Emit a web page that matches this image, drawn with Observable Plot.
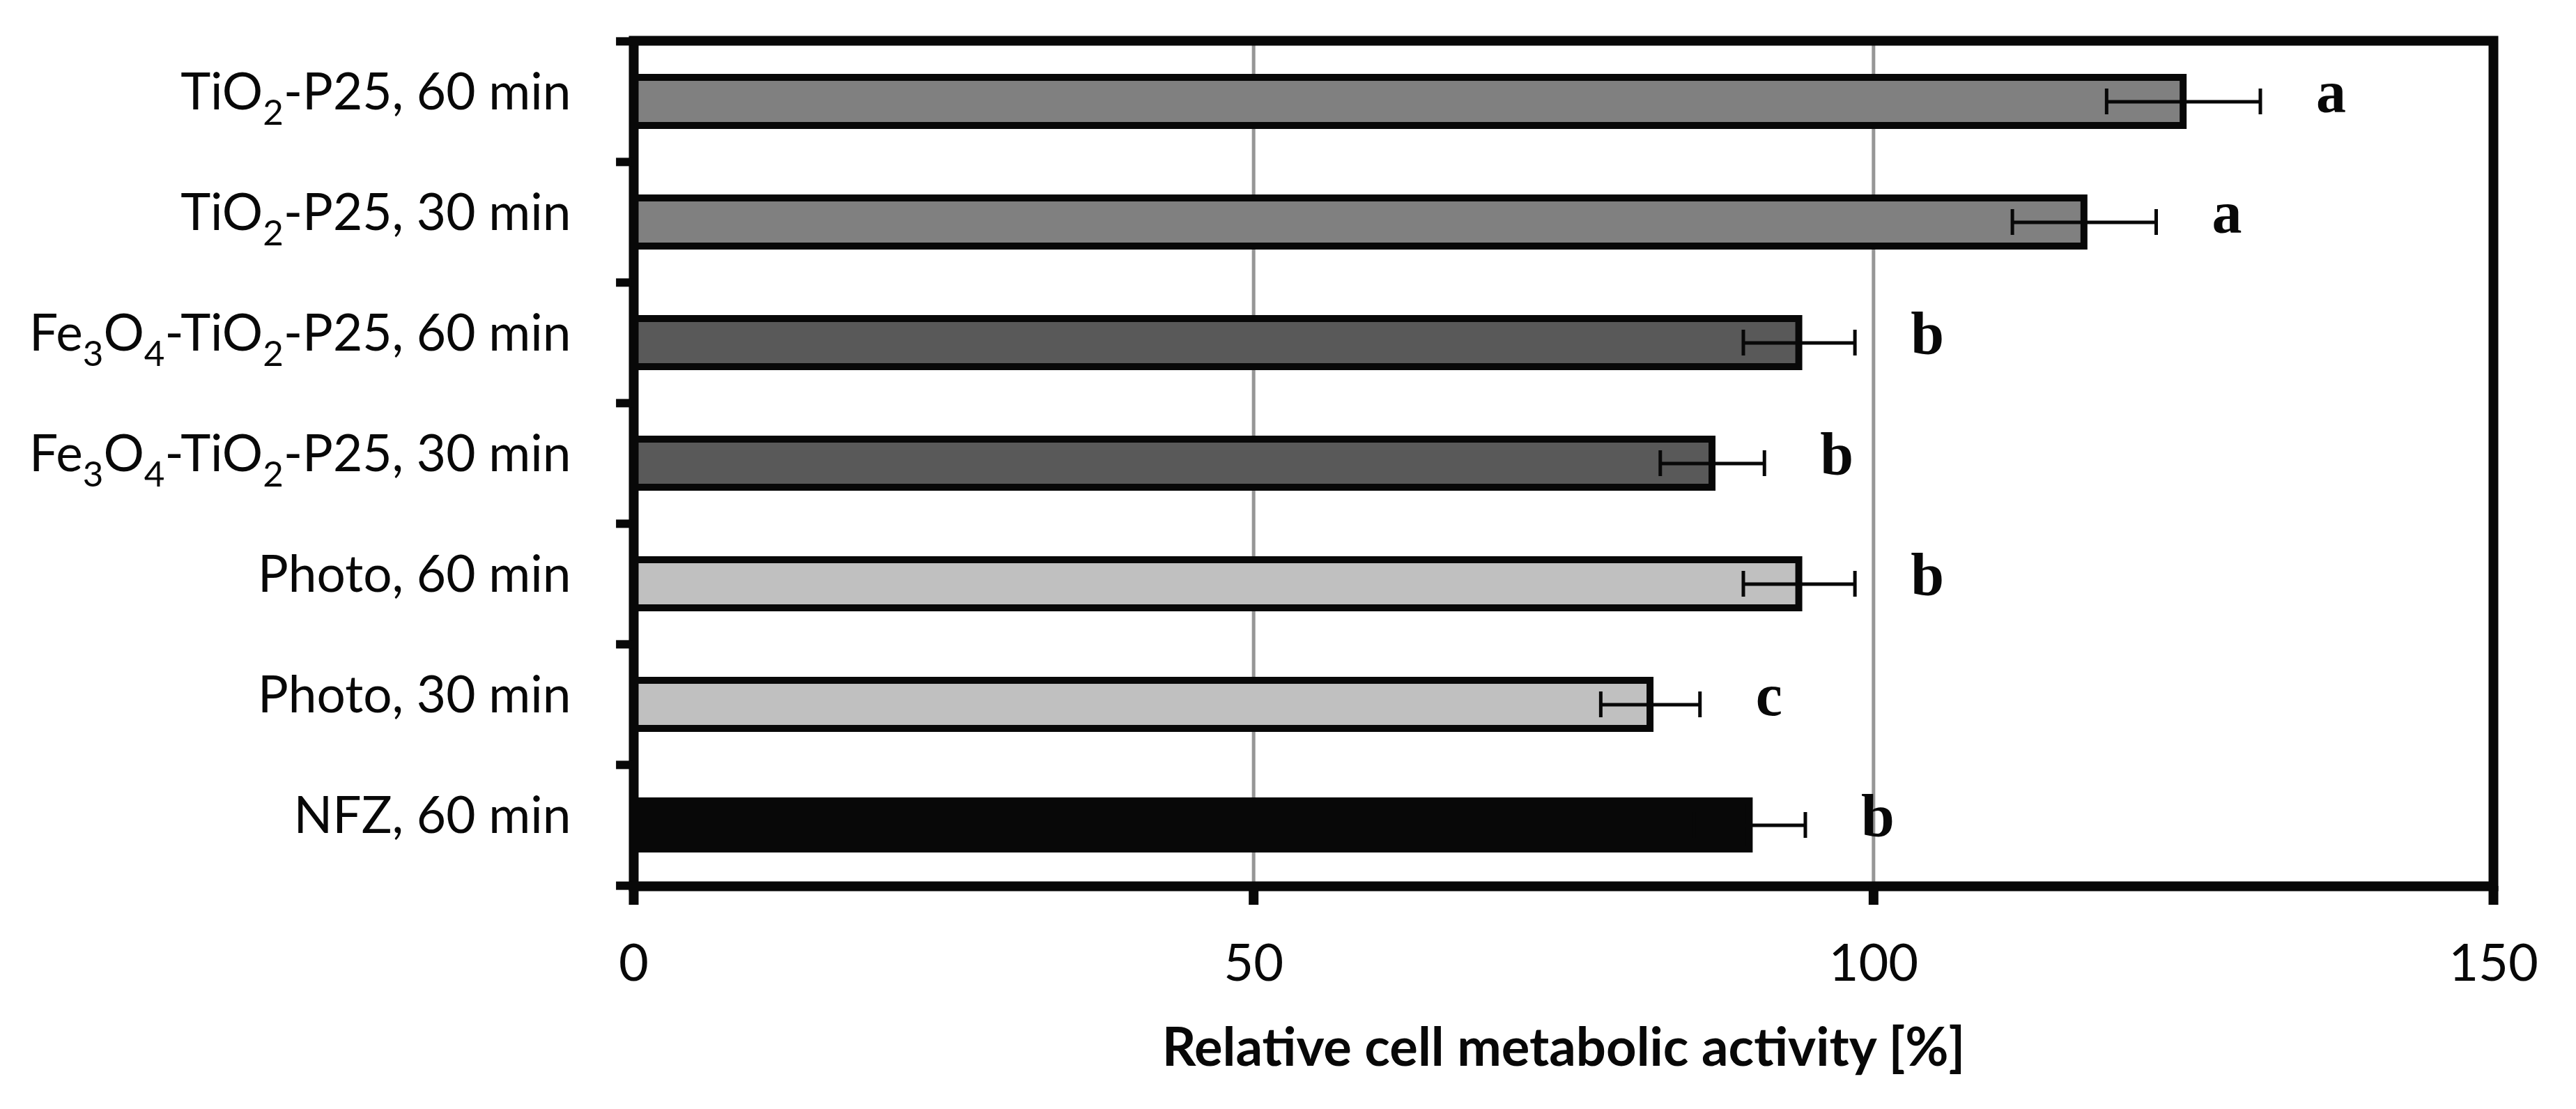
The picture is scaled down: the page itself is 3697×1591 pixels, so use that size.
<!DOCTYPE html>
<html><head><meta charset="utf-8">
<script src="https://cdn.jsdelivr.net/npm/d3@7"></script>
<script src="https://cdn.jsdelivr.net/npm/@observablehq/plot@0.6"></script>
<style>body{margin:0;background:#fff}</style>
</head><body><div id="chart"></div>
<script>
const categories = ["TiO2-P25, 60 min","TiO2-P25, 30 min","Fe3O4-TiO2-P25, 60 min","Fe3O4-TiO2-P25, 30 min","Photo, 60 min","Photo, 30 min","NFZ, 60 min"];
const values = [125, 117, 94, 87, 94, 82, 90];
const errors = [6.2, 5.8, 4.5, 4.2, 4.5, 4.0, 4.5];
const letters = ["a","a","b","b","b","c","b"];
const groups = ["TiO2","TiO2","Fe3O4","Fe3O4","Photo","Photo","NFZ"];
const groupNames = ["TiO2","Fe3O4","Photo","NFZ"];
const groupColors = ["#808080","#595959","#c0c0c0","#080808"];
const xTicks = [0, 50, 100, 150];
const gridValues = [50, 100];
const xLabel = "Relative cell metabolic activity [%]";

const data = categories.map((c, i) => ({
  cat: c, value: values[i], err: errors[i], letter: letters[i], group: groups[i],
  lo: values[i] - errors[i], hi: values[i] + errors[i]
}));

const W = 3697, H = 1591;
const mTop = 58, mBottom = 320, mLeft = 909, mRight = 119;
const step = (H - mTop - mBottom) / categories.length;
const ink = "#080808";
const labelSize = 73;

const chart = Plot.plot({
  width: W, height: H,
  marginTop: mTop, marginBottom: mBottom, marginLeft: mLeft, marginRight: mRight,
  style: {fontFamily: "Lato", color: ink, background: "white"},
  x: {domain: [0, 150], label: null},
  y: {domain: categories, paddingInner: 0.6, paddingOuter: 0.3, label: null},
  color: {domain: groupNames, range: groupColors},
  marks: [
    Plot.ruleX(gridValues, {stroke: "#969696", strokeWidth: 5}),
    Plot.barX(data, {x: "value", y: "cat", fill: "group", stroke: ink, strokeWidth: 10}),
    Plot.ruleY(data, {y: "cat", x1: "lo", x2: "hi", stroke: ink, strokeWidth: 5}),
    Plot.tickX(data, {x: "lo", y: "cat", stroke: ink, strokeWidth: 5, insetTop: 16, insetBottom: 16}),
    Plot.tickX(data, {x: "hi", y: "cat", stroke: ink, strokeWidth: 5, insetTop: 16, insetBottom: 16}),
    Plot.text(data, {x: "hi", y: "cat", text: "letter", textAnchor: "start", dx: 80, dy: -13,
      fontFamily: "Liberation Serif", fontWeight: "bold", fontSize: 86, fill: ink}),
    Plot.frame({stroke: ink, strokeWidth: 14}),
    Plot.ruleY(categories, {y: d => d, x1: -1.4, x2: 0, dy: -step / 2, stroke: ink, strokeWidth: 12}),
    Plot.ruleY(categories.slice(-1), {y: d => d, x1: -1.4, x2: 0, dy: step / 2, stroke: ink, strokeWidth: 12}),
    Plot.axisX({ticks: xTicks, tickSize: 27, tickPadding: 56, strokeWidth: 14, fontSize: 74,
      fontFamily: "Lato", label: null, tickFormat: d => String(d)}),
    Plot.axisY({tickSize: 0, tickPadding: 90, fontSize: labelSize, fontFamily: "Lato", label: null, dy: -12}),
    Plot.text([xLabel], {text: d => d, frameAnchor: "bottom", dy: 257, fontWeight: "bold",
      fontSize: 76, fontFamily: "Lato", fill: ink})
  ]
});
document.getElementById("chart").appendChild(chart);

// subscripts in chemical formulas on the category labels
d3.select(chart).selectAll('g[aria-label="y-axis tick label"] text').each(function() {
  const el = d3.select(this);
  const s = el.text();
  const parts = s.split(/(?<=[eO])(\d)/);
  const fs = labelSize, shift = 0.3 * fs;
  el.text("");
  let shifted = false;
  parts.forEach((p, i) => {
    if (p === "") return;
    const t = el.append("tspan").text(p);
    if (i % 2 === 1) {
      t.attr("font-size", 0.7 * fs).attr("dy", shift);
      shifted = true;
    } else if (shifted) {
      t.attr("dy", -shift);
      shifted = false;
    }
  });
});
</script>
</body></html>
